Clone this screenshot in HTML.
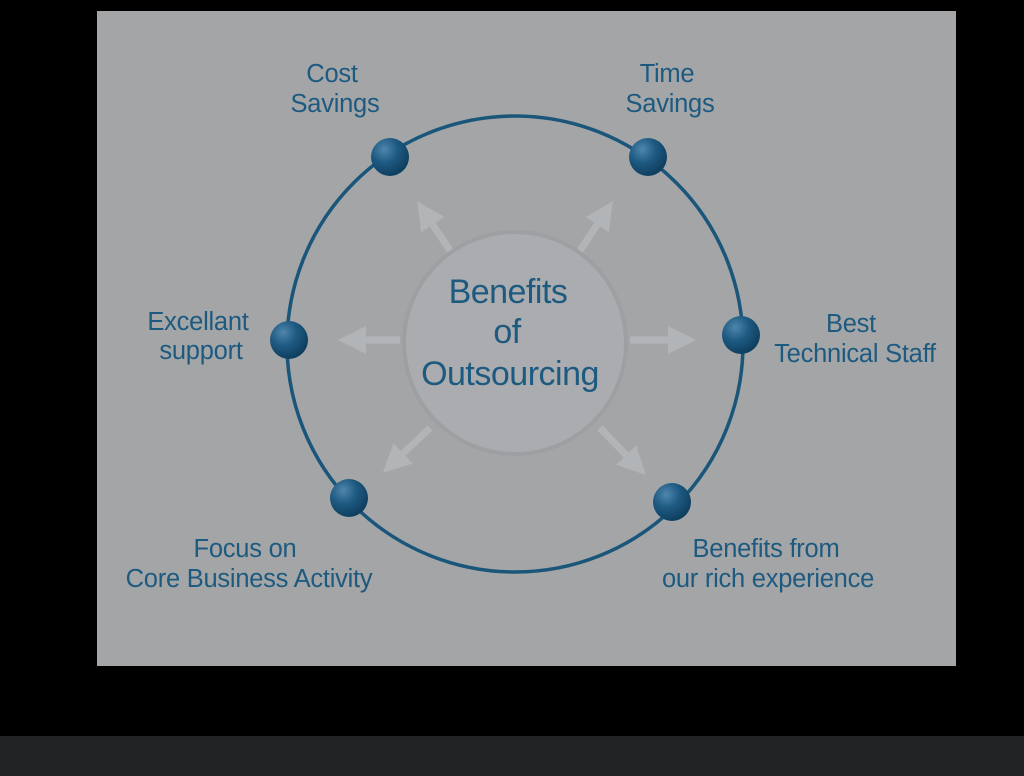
<!DOCTYPE html>
<html><head><style>
html,body{margin:0;padding:0;background:#000;width:1024px;height:776px;overflow:hidden}
svg{display:block}
text{font-family:"Liberation Sans",sans-serif;fill:#1d5a80}
</style></head><body>
<svg width="1024" height="776" viewBox="0 0 1024 776">
<defs>
<radialGradient id="g" cx="0.35" cy="0.3" r="0.7">
<stop offset="0" stop-color="#4f86ad"/><stop offset="0.5" stop-color="#1e5a82"/><stop offset="1" stop-color="#0f3f60"/>
</radialGradient>
<marker id="ah" markerWidth="4" markerHeight="4" refX="2" refY="2" orient="auto" markerUnits="strokeWidth">
<path d="M0,0 L4,2 L0,4 Z" fill="#b2b5b8"/>
</marker>
</defs>
<rect x="0" y="0" width="1024" height="776" fill="#000"/>
<rect x="0" y="736" width="1024" height="40" fill="#222325"/>
<rect x="97" y="11" width="859" height="655" fill="#a4a5a7"/>
<g stroke="#b2b5b8" stroke-width="7" marker-end="url(#ah)">
<line x1="455" y1="258" x2="425" y2="213"/>
<line x1="575" y1="258" x2="605" y2="213"/>
<line x1="400" y1="340" x2="352" y2="340"/>
<line x1="630" y1="340" x2="682" y2="340"/>
<line x1="430" y1="428" x2="393" y2="463"/>
<line x1="600" y1="428" x2="636" y2="465"/>
</g>
<circle cx="515" cy="344" r="228" fill="none" stroke="#1a557a" stroke-width="3.5"/>
<circle cx="515" cy="343" r="111" fill="#aaacaf" stroke="#9da0a3" stroke-width="4"/>
<g fill="url(#g)">
<circle cx="390" cy="157" r="19"/><circle cx="648" cy="157" r="19"/>
<circle cx="289" cy="340" r="19"/><circle cx="741" cy="335" r="19"/>
<circle cx="349" cy="498" r="19"/><circle cx="672" cy="502" r="19"/>
</g>
<g text-anchor="middle" font-size="25.5" letter-spacing="-0.25">
<text x="508" y="303" font-size="34" letter-spacing="-0.5">Benefits</text>
<text x="507" y="343" font-size="34" letter-spacing="-0.5">of</text>
<text x="510" y="385" font-size="34" letter-spacing="-0.5">Outsourcing</text>
<text x="332" y="82">Cost</text><text x="335" y="112">Savings</text>
<text x="667" y="82">Time</text><text x="670" y="112">Savings</text>
<text x="198" y="330">Excellant</text><text x="201" y="359">support</text>
<text x="851" y="332">Best</text><text x="855" y="362">Technical Staff</text>
<text x="245" y="557">Focus on</text><text x="249" y="587">Core Business Activity</text>
<text x="766" y="557">Benefits from</text><text x="768" y="587">our rich experience</text>
</g>
</svg>
</body></html>
